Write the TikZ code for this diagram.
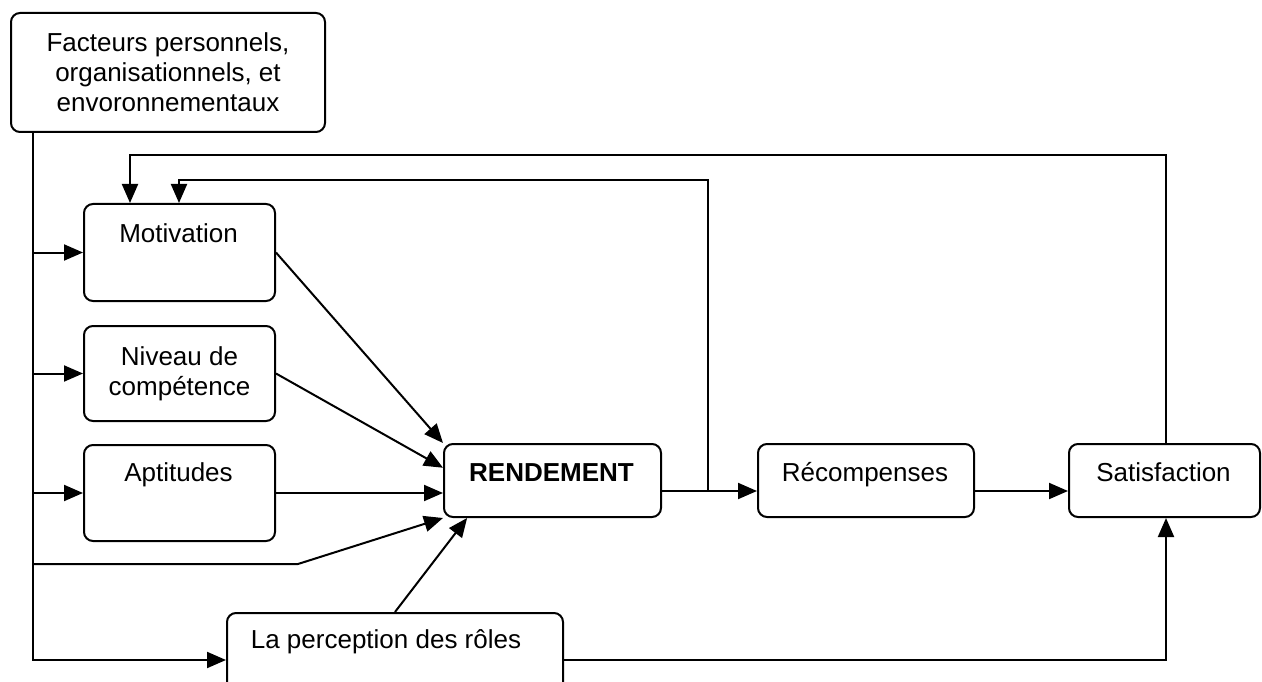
\documentclass[tikz,border=0pt]{standalone}
\usepackage{fontspec}
\setmainfont{Liberation Sans}
\usetikzlibrary{arrows.meta,calc}
\begin{document}
\begin{tikzpicture}[x=1pt,y=-1pt,
  every node/.style={font=\fontsize{26}{30}\selectfont},
  box/.style={draw, line width=2pt, rounded corners=9pt, inner sep=0pt, anchor=north west, align=center},
  lbl/.style={inner sep=0pt, anchor=base},
  wire/.style={line width=2pt},
  link/.style={line width=2pt, -{Triangle[length=19pt,width=16pt]}}]
\useasboundingbox (0,0) rectangle (1262,682);

% boxes
\node[box, minimum width=314pt, minimum height=119pt] (fact) at (10,12)
  {Facteurs personnels,\\organisationnels, et\\envoronnementaux};
\node[box, minimum width=191pt, minimum height=97pt] (mot) at (83,203) {};
\node[box, minimum width=191pt, minimum height=95pt] (niv) at (83,325)
  {Niveau de\\comp\'etence};
\node[box, minimum width=191pt, minimum height=96pt] (apt) at (83,444) {};
\node[box, minimum width=217pt, minimum height=73pt] (rend) at (443,443) {};
\node[box, minimum width=216pt, minimum height=73pt] (rec) at (757,443) {};
\node[box, minimum width=191pt, minimum height=73pt] (sat) at (1068,443) {};
\node[box, minimum width=336pt, minimum height=94pt] (perc) at (226,612) {};

% labels set near the top of their boxes
\node[lbl] (motT) at (178.5,242) {Motivation};
\node[lbl] (aptT) at (178.5,481) {Aptitudes};
\node[lbl] (rendT) at (551.5,481) {\bfseries RENDEMENT};
\node[lbl] (recT) at (865,481) {R\'ecompenses};
\node[lbl] (satT) at (1163.5,481) {Satisfaction};
\node[lbl] (percT) at (386,648) {La perception des r\^oles};

% helper coordinates
\coordinate (spine) at (33,0);
\coordinate (flow) at (0,491);
\coordinate (fork) at (708,491);
\coordinate (satx) at (1166,0);
\coordinate (loopA) at (130,155);
\coordinate (loopB) at (179,180);
\coordinate (kink) at (298,564);

% influences from the personal/organisational factors
\draw[link] (fact.south -| spine) |- (perc.west);
\draw[link] (mot.west -| spine) -- (mot.west);
\draw[link] (niv.west -| spine) -- (niv.west);
\draw[link] (apt.west -| spine) -- (apt.west);
\draw[link] (kink -| spine) -- (kink) -- (rend.south west);

% inputs to performance
\draw[link] (mot.east) -- (rend.north west);
\draw[link] (niv.east) -- ($(rend.north west)!0.33!(rend.south west)$);
\draw[link] (apt.east) -- (apt.east -| rend.west);
\draw[link] (perc.north) -- ($(rend.south west)!0.11!(rend.south east)$);

% main chain
\draw[link] (rend.east |- flow) -- (rec.west |- flow);
\draw[link] (rec.east |- flow) -- (sat.west |- flow);
\draw[link] (perc.east) -| (sat.south -| satx);

% feedback loops
\draw[link] (fork) |- (loopB) -- (mot.north -| loopB);
\draw[link] (sat.north -| satx) |- (loopA) -- (mot.north -| loopA);
\end{tikzpicture}
\end{document}
